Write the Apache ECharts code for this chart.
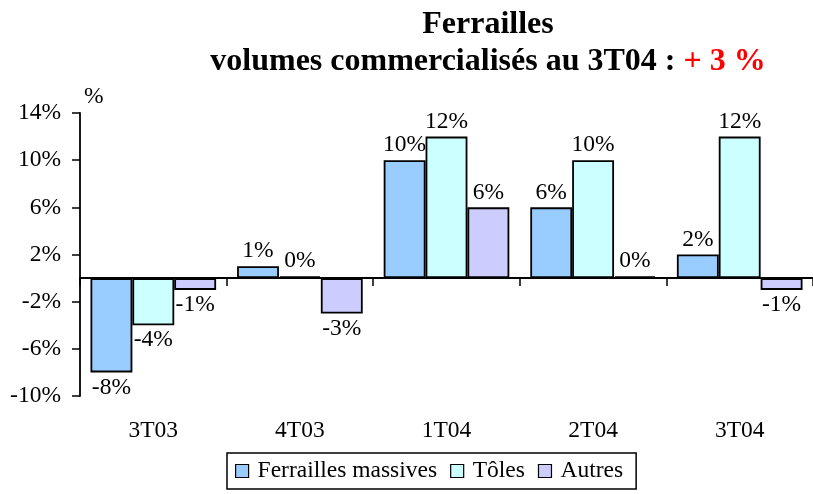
<!DOCTYPE html>
<html><head><meta charset="utf-8">
<script src="https://cdn.jsdelivr.net/npm/echarts@6/dist/echarts.min.js"></script>
<style>html,body{margin:0;padding:0;background:#fff}#c{width:813px;height:494px}</style>
</head><body><div id="c"></div>
<script>
const categories = ['3T03', '4T03', '1T04', '2T04', '3T04'];
const seriesNames = ['Ferrailles massives', 'Tôles', 'Autres'];
const ferraillesMassives = [-8, 1, 10, 6, 2];
const toles = [-4, 0.15, 12, 10, 12];
const autres = [-1, -3, 6, 0.15, -1];
const yTicks = [-10, -6, -2, 2, 6, 10, 14];
const colors = ['#99CCFF', '#CCFFFF', '#CCCCFF'];

const FONT = '"Liberation Serif", "Times New Roman", serif';
const FS = 23.5;
const chart = echarts.init(document.getElementById('c'));

function mkData(vals) {
  return vals.map(v => ({
    value: v,
    label: { position: v < 0 ? 'bottom' : 'top' }
  }));
}
const allVals = [ferraillesMassives, toles, autres];
const series = allVals.map((vals, i) => ({
  name: seriesNames[i],
  type: 'bar',
  xAxisIndex: 0,
  data: mkData(vals),
  barGap: '0%',
  barCategoryGap: '14.3%',
  itemStyle: { color: colors[i], borderColor: '#000', borderWidth: 1.8 },
  label: {
    show: true,
    distance: 3,
    fontFamily: FONT,
    fontSize: FS,
    color: '#000',
    formatter: p => Math.round(p.value) + '%'
  }
}));

chart.setOption({
  animation: false,
  backgroundColor: '#fff',
  title: {
    text: '{a|Ferrailles}\n{a|volumes commercialisés au 3T04 : }{r|+ 3 %}',
    left: 483,
    textAlign: 'center',
    top: 1,
    textStyle: {
      rich: {
        a: { fontFamily: FONT, fontWeight: 'bold', fontSize: 32, color: '#000', lineHeight: 37 },
        r: { fontFamily: FONT, fontWeight: 'bold', fontSize: 32, color: '#FF0000', lineHeight: 37 }
      }
    }
  },
  legend: {
    data: seriesNames,
    left: 227,
    top: 453,
    borderColor: '#000',
    borderWidth: 1.5,
    padding: [6, 13, 6, 8],
    itemGap: 13,
    itemWidth: 13,
    itemHeight: 13,
    icon: 'rect',
    itemStyle: { borderColor: '#000', borderWidth: 1.2 },
    textStyle: { fontFamily: FONT, fontSize: FS, color: '#000', padding: [0, 0, 0, 4] }
  },
  grid: { left: 80, right: -2, top: 113, bottom: 98, containLabel: false },
  xAxis: [{
    type: 'category',
    data: categories,
    axisLine: { onZero: true, lineStyle: { color: '#000', width: 1.8 } },
    axisTick: { show: true, length: 8, inside: false, lineStyle: { color: '#000', width: 1.5 } },
    axisLabel: { show: false }
  }, {
    type: 'category',
    data: categories,
    position: 'bottom',
    axisLine: { show: false, onZero: false },
    axisTick: { show: false },
    axisLabel: { margin: 23, fontFamily: FONT, fontSize: FS, color: '#000' }
  }],
  yAxis: {
    type: 'value',
    min: yTicks[0],
    max: yTicks[yTicks.length - 1],
    interval: 4,
    name: '%',
    nameLocation: 'end',
    nameGap: 4,
    nameTextStyle: { fontFamily: FONT, fontSize: FS, color: '#000', align: 'left', padding: [0, 0, 0, 4] },
    axisLine: { show: true, lineStyle: { color: '#000', width: 1.8 } },
    axisTick: { show: true, length: 8, lineStyle: { color: '#000', width: 1.5 } },
    splitLine: { show: false },
    axisLabel: { margin: 19, fontFamily: FONT, fontSize: FS, color: '#000', formatter: v => v + '%' }
  },
  series: series
});
</script></body></html>
